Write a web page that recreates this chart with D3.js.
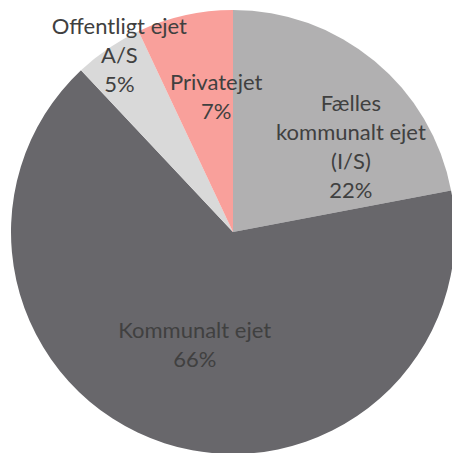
<!DOCTYPE html>
<html>
<head>
<meta charset="utf-8">
<script src="https://cdn.jsdelivr.net/npm/d3@7"></script>
<style>
	html, body { margin: 0; padding: 0; background: #fff; }
	svg text { font-family: Lato, "Open Sans", sans-serif; fill: #404040; }
</style>
</head>
<body>
<div id="chart"></div>
<script>
// Data, clockwise from 12 o'clock
const categories = ['Fælles kommunalt ejet (I/S)', 'Kommunalt ejet', 'Offentligt ejet A/S', 'Privatejet'];
const values = [22, 66, 5, 7];
const labelLines = [
	['Fælles', 'kommunalt ejet', '(I/S)', '22%'],
	['Kommunalt ejet', '66%'],
	['Offentligt ejet', 'A/S', '5%'],
	['Privatejet', '7%']
];
const colors = ['#b1b0b1', '#68676b', '#d9d9d9', '#f9a09b'];

const width = 452, height = 453;
const cx = 233, cy = 232, radius = 222;

// label placement: radius fraction + angle shift (deg) from slice middle
const labelSpot = [
	{ r: 0.66, shift: 14 },
	{ r: 0.53, shift: 1 },
	{ r: 0.95, shift: 1.6 },
	{ r: 0.62, shift: 5.6 }
];
const lineH = 29;

const svg = d3.select('#chart').append('svg')
	.attr('width', width)
	.attr('height', height);

const g = svg.append('g')
	.attr('transform', `translate(${cx},${cy})`);

const pie = d3.pie().sort(null).value(d => d);
const arcs = pie(values);

const arc = d3.arc().innerRadius(0).outerRadius(radius);

g.selectAll('path.slice')
	.data(arcs)
	.join('path')
	.attr('class', 'slice')
	.attr('d', arc)
	.attr('fill', (d, i) => colors[i]);

// labels
arcs.forEach((d, i) => {
	let mid = (d.startAngle + d.endAngle) / 2 + labelSpot[i].shift * Math.PI / 180;
	let [x, y] = d3.pointRadial(mid, radius * labelSpot[i].r);
	let lines = labelLines[i];
	let top = y - (lines.length - 1) * lineH / 2;

	let t = g.append('text')
		.attr('text-anchor', 'middle')
		.attr('font-size', 22)
		.attr('dominant-baseline', 'central');

	lines.forEach((s, k) => {
		t.append('tspan')
			.attr('x', x)
			.attr('y', top + k * lineH)
			.text(s);
	});
});
</script>
</body>
</html>
